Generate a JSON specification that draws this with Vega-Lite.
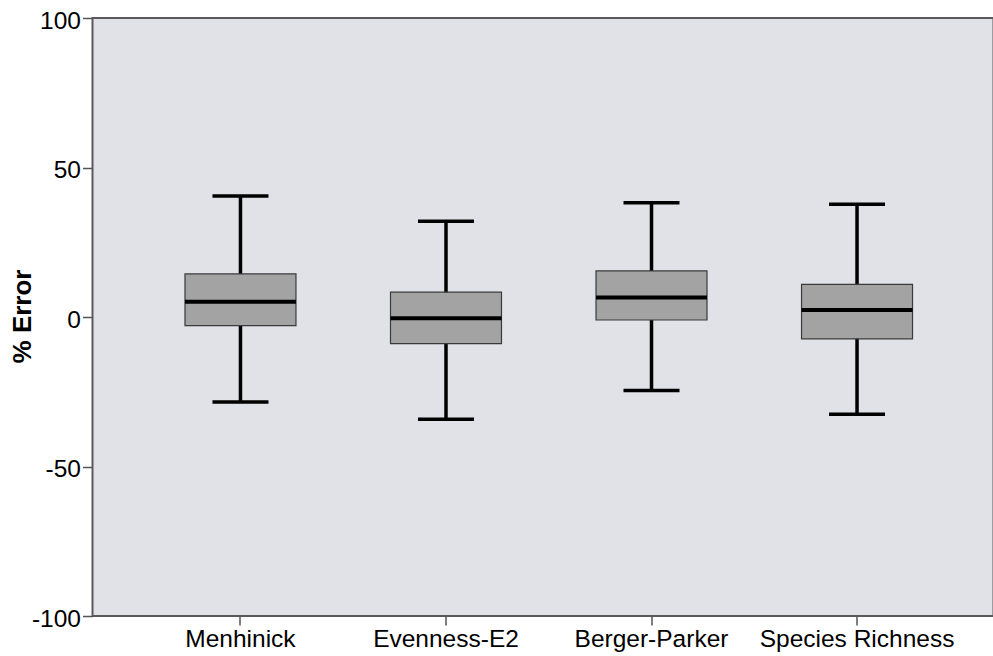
{
  "$schema": "https://vega.github.io/schema/vega-lite/v6.json",
  "autosize": "none",
  "width": 901,
  "height": 598,
  "padding": {"left": 92.5, "top": 18, "right": 0, "bottom": 40},
  "background": "white",
  "config": {
    "font": "Liberation Sans",
    "view": {"fill": "#e1e1e8", "stroke": "#5a5a5a", "strokeWidth": 2},
    "axisX": {
      "domain": false,
      "grid": false,
      "tickColor": "#555555",
      "tickWidth": 1.5,
      "tickSize": 9,
      "labelPadding": 2,
      "labelFont": "Liberation Sans",
      "labelFontSize": 24.5,
      "labelColor": "#000000",
      "labelLimit": 400,
      "title": null
    },
    "axisY": {
      "domain": false,
      "grid": false,
      "tickColor": "#555555",
      "tickWidth": 1.5,
      "tickSize": 10,
      "labelPadding": 2,
      "labelFont": "Liberation Sans",
      "labelFontSize": 24.5,
      "labelColor": "#000000",
      "labelOffset": 3,
      "titleFont": "Liberation Sans",
      "titleFontSize": 26,
      "titleFontWeight": "bold",
      "titleColor": "#000000",
      "titleAngle": -90,
      "titleAlign": "center",
      "titleBaseline": "middle",
      "titleX": -70,
      "titleY": 298
    }
  },
  "data": {
    "values": [
      {"measure": "Menhinick", "lower": -28.4, "q1": -2.9, "median": 5.1, "q3": 14.4, "upper": 40.5},
      {"measure": "Evenness-E2", "lower": -34.2, "q1": -8.9, "median": -0.4, "q3": 8.3, "upper": 32.0},
      {"measure": "Berger-Parker", "lower": -24.6, "q1": -1.0, "median": 6.5, "q3": 15.4, "upper": 38.2},
      {"measure": "Species Richness", "lower": -32.5, "q1": -7.3, "median": 2.3, "q3": 10.9, "upper": 37.7}
    ]
  },
  "encoding": {
    "x": {
      "field": "measure",
      "type": "nominal",
      "sort": null,
      "scale": {"range": [0, 912.5], "paddingInner": 0, "paddingOuter": 0.22},
      "axis": {"labelAngle": 0}
    }
  },
  "layer": [
    {
      "mark": {"type": "rule", "color": "#000000", "strokeWidth": 3.5},
      "encoding": {
        "y": {
          "field": "lower",
          "type": "quantitative",
          "title": "% Error",
          "scale": {"domain": [-100, 100], "nice": false},
          "axis": {"values": [-100, -50, 0, 50, 100], "labelExpr": "toString(datum.value)"}
        },
        "y2": {"field": "upper"}
      }
    },
    {
      "mark": {"type": "bar", "width": {"band": 0.54}, "fill": "#a3a3a3", "stroke": "#3a3a3a", "strokeWidth": 1.2},
      "encoding": {
        "y": {"field": "q3", "type": "quantitative", "title": "% Error"},
        "y2": {"field": "q1"}
      }
    },
    {
      "mark": {"type": "tick", "color": "#000000", "size": 111, "thickness": 4, "opacity": 1},
      "encoding": {
        "y": {"field": "median", "type": "quantitative", "title": "% Error"}
      }
    },
    {
      "mark": {"type": "tick", "color": "#000000", "size": 56, "thickness": 3.5, "opacity": 1},
      "encoding": {
        "y": {"field": "upper", "type": "quantitative", "title": "% Error"}
      }
    },
    {
      "mark": {"type": "tick", "color": "#000000", "size": 56, "thickness": 3.5, "opacity": 1},
      "encoding": {
        "y": {"field": "lower", "type": "quantitative", "title": "% Error"}
      }
    },
    {
      "mark": {"type": "rule", "color": "#5e5e5e", "strokeWidth": 1.6, "opacity": 0.9},
      "encoding": {
        "y": {"datum": 0}
      }
    }
  ]
}
